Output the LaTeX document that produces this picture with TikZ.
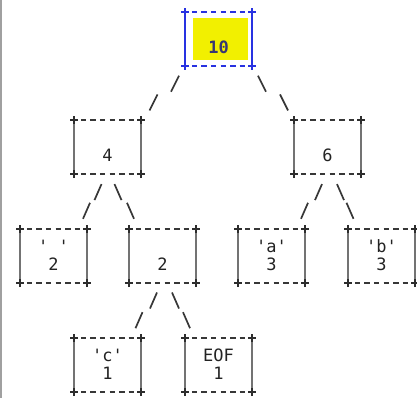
\documentclass[tikz,border=0pt]{standalone}
\usepackage{fontspec}
\setmonofont{DejaVu Sans Mono}
\definecolor{dashc}{RGB}{55,55,55}
\definecolor{barc}{RGB}{115,115,115}
\definecolor{plusc}{RGB}{45,45,45}
\definecolor{linec}{RGB}{55,55,55}
\definecolor{textc}{RGB}{35,35,35}
\definecolor{rootblue}{RGB}{40,50,225}
\definecolor{rootfill}{RGB}{242,240,0}
\definecolor{roottext}{RGB}{55,55,115}
\definecolor{edgec}{RGB}{160,160,160}
\tikzset{
  cell/.style={rectangle, draw=none, minimum width=67pt, minimum height=54pt, inner sep=0pt, outer sep=0pt},
  hdash/.style={draw=dashc, line width=2pt, dash pattern=on 5.5pt off 4.07pt},
  vbar/.style={draw=barc, line width=2pt},
  plusmark/.style={draw=plusc, line width=2pt},
  blueframe/.style={draw=rootblue},
  conn/.style={draw=linec, line width=1.7pt},
  lbl/.style={font=\fontsize{17}{17}\selectfont\ttfamily, text=textc, inner sep=0pt, anchor=base},
  rootlbl/.style={lbl, font=\fontsize{17}{17}\selectfont\ttfamily\bfseries, text=roottext},
}
\newcommand{\drawframe}[2]{%
  \draw[hdash,#2] ([xshift=6.8pt]#1.north west) -- ([xshift=-6.8pt]#1.north east);
  \draw[hdash,#2] ([xshift=6.8pt]#1.south west) -- ([xshift=-6.8pt]#1.south east);
  \draw[vbar,#2] (#1.north west) -- (#1.south west);
  \draw[vbar,#2] (#1.north east) -- (#1.south east);
  \foreach \corner in {north west,north east,south west,south east}{
    \draw[plusmark,#2] ([xshift=-4pt]#1.\corner) -- ([xshift=4pt]#1.\corner)
                       ([yshift=-4pt]#1.\corner) -- ([yshift=4pt]#1.\corner);
  }%
}
\begin{document}
\begin{tikzpicture}[x=1pt,y=-1pt]
\useasboundingbox (0,0) rectangle (417,398);
\draw[draw=edgec, line width=2.4pt] (1.2,0) -- (1.2,398);

% boxes
\node[cell] (root) at (218.5,39) {};
\node[cell] (n4)   at (107.5,147) {};
\node[cell] (n6)   at (327.5,147) {};
\node[cell] (nsp)  at (53.5,256) {};
\node[cell] (n2)   at (162.5,256) {};
\node[cell] (na)   at (271.5,256) {};
\node[cell] (nb)   at (381.5,256) {};
\node[cell] (nc)   at (107.5,365) {};
\node[cell] (neof) at (218.5,365) {};

\fill[rootfill] ([shift={(8,6)}]root.north west) rectangle ([shift={(-4,-6)}]root.south east);
\drawframe{root}{blueframe}
\drawframe{n4}{}
\drawframe{n6}{}
\drawframe{nsp}{}
\drawframe{n2}{}
\drawframe{na}{}
\drawframe{nb}{}
\drawframe{nc}{}
\drawframe{neof}{}

% labels
\node[rootlbl] (troot) at ([yshift=-14.85pt]root.center) {10};
\node[lbl] (t4)   at ([yshift=-14.85pt]n4.center) {4};
\node[lbl] (t6)   at ([yshift=-14.85pt]n6.center) {6};
\node[lbl] (tsp1) at ([yshift=3.15pt]nsp.center) {' '};
\node[lbl] (tsp2) at ([yshift=-14.85pt]nsp.center) {2};
\node[lbl] (t2)   at ([yshift=-14.85pt]n2.center) {2};
\node[lbl] (ta1)  at ([yshift=3.15pt]na.center) {'a'};
\node[lbl] (ta2)  at ([yshift=-14.85pt]na.center) {3};
\node[lbl] (tb1)  at ([yshift=3.15pt]nb.center) {'b'};
\node[lbl] (tb2)  at ([yshift=-14.85pt]nb.center) {3};
\node[lbl] (tc1)  at ([yshift=3.15pt]nc.center) {'c'};
\node[lbl] (tc2)  at ([yshift=-14.85pt]nc.center) {1};
\node[lbl] (te1)  at ([yshift=3.15pt]neof.center) {EOF};
\node[lbl] (te2)  at ([yshift=-14.85pt]neof.center) {1};

% connectors (two slash strokes each)
\draw[conn] ([shift={(-39.5,9.7)}]root.south) -- ++(-8,16)
            ([shift={(16.5,-25.6)}]n4.north east) -- ++(-8,16);
\draw[conn] ([shift={(39.5,9.7)}]root.south) -- ++(8,16)
            ([shift={(-14,-25.6)}]n6.north west) -- ++(8,16);

\draw[conn] ([shift={(-6,10.1)}]n4.south) -- ++(-7,16)
            ([shift={(3,-26.2)}]nsp.north east) -- ++(-7,16);
\draw[conn] ([shift={(7,10.1)}]n4.south) -- ++(7,16)
            ([shift={(-2,-26.2)}]n2.north west) -- ++(7,16);

\draw[conn] ([shift={(-5.5,10.1)}]n6.south) -- ++(-7,16)
            ([shift={(3,-26.2)}]na.north east) -- ++(-7,16);
\draw[conn] ([shift={(9.5,10.1)}]n6.south) -- ++(7,16)
            ([shift={(-1.5,-26.2)}]nb.north west) -- ++(7,16);

\draw[conn] ([shift={(-5.5,9.5)}]n2.south) -- ++(-7,16)
            ([shift={(1.5,-25.8)}]nc.north east) -- ++(-7,16);
\draw[conn] ([shift={(9.5,9.5)}]n2.south) -- ++(7,16)
            ([shift={(-2,-25.8)}]neof.north west) -- ++(7,16);
\end{tikzpicture}
\end{document}
